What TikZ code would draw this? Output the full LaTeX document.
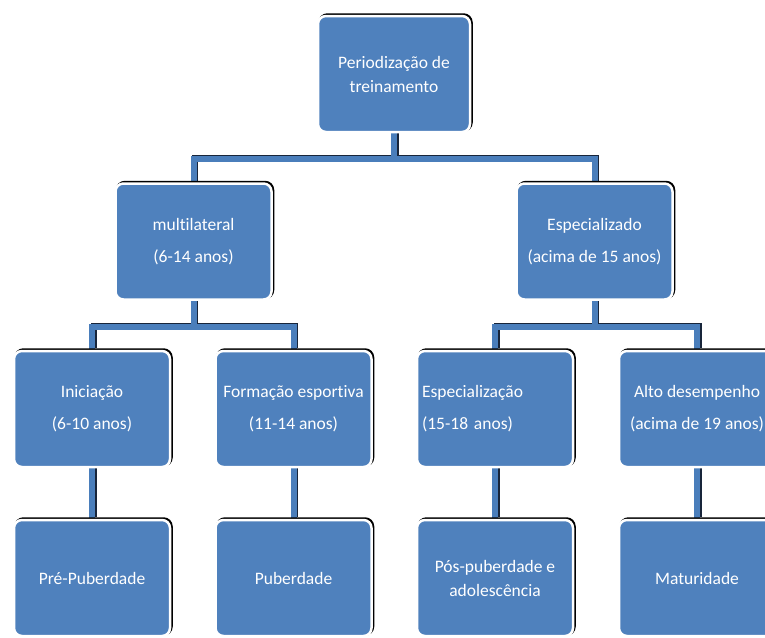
\documentclass[tikz,border=0pt]{standalone}
\usepackage{fontspec}
\setmainfont{Carlito}[Ligatures=NoCommon]
\usetikzlibrary{shadows,backgrounds}
\definecolor{boxblue}{HTML}{4F81BD}
\definecolor{lineblue}{HTML}{4A7EBB}
\definecolor{darkline}{HTML}{18253A}
\tikzset{
  box/.style={draw=white, line width=2.5pt, fill=boxblue, rounded corners=8pt,
    minimum width=156pt, minimum height=116pt, inner sep=0pt, text=white,
    font=\fontsize{17.5}{24}\selectfont, align=center,
    general shadow={fill=black, draw=black, line width=2.5pt, rounded corners=8pt, shadow xshift=1.5pt, shadow yshift=1.5pt}},
  conn/.style={draw=lineblue, line width=6pt},
  connshade/.style={draw=darkline, line width=6pt},
}
\begin{document}
\begin{tikzpicture}[x=1pt,y=-1pt]
\useasboundingbox (0,0) rectangle (765,637);
\clip (0,0) rectangle (765,637);
\coordinate (h1) at (0,159);
\coordinate (h2) at (0,327);
\node[box, minimum width=152pt] (top) at (394,74) {Periodização de\\treinamento};
\node[box] (multi) at (193.5,241.5) {multilateral\\[8pt](6-14 anos)};
\node[box] (espd) at (594.5,241.5) {Especializado\\[8pt](acima de 15 anos)};
\node[box] (inic) at (92,409) {Iniciação\\[8pt](6-10 anos)};
\node[box] (form) at (293.5,409) {Formação esportiva\\[8pt](11-14 anos)};
\node[box, align=left, text width=146pt] (espz) at (495,409) {Especialização\\[8pt](15-18 anos)};
\node[box] (alto) at (697,409) {Alto desempenho\\[8pt](acima de 19 anos)};
\node[box] (pre) at (92,578) {Pré-Puberdade};
\node[box] (pub) at (293.5,578) {Puberdade};
\node[box] (pos) at (495,578) {Pós-puberdade e\\adolescência};
\node[box] (mat) at (697,578) {Maturidade};
\begin{scope}[on background layer]
\foreach \st/\sh in {connshade/1.5pt, conn/0pt} {
  \begin{scope}[transform canvas={shift={(\sh,\sh)}}]
    \draw[\st] (top.south) -- (top.south |- h1);
    \draw[\st] (multi.north) |- (top.south |- h1) -| (espd.north);
    \draw[\st] (multi.south) -- (multi.south |- h2);
    \draw[\st] (inic.north) |- (multi.south |- h2) -| (form.north);
    \draw[\st] (espd.south) -- (espd.south |- h2);
    \draw[\st] (espz.north) |- (espd.south |- h2) -| (alto.north);
    \draw[\st] (inic) -- (pre);
    \draw[\st] (form) -- (pub);
    \draw[\st] (espz) -- (pos);
    \draw[\st] (alto) -- (mat);
  \end{scope}
}
\end{scope}
\end{tikzpicture}
\end{document}
